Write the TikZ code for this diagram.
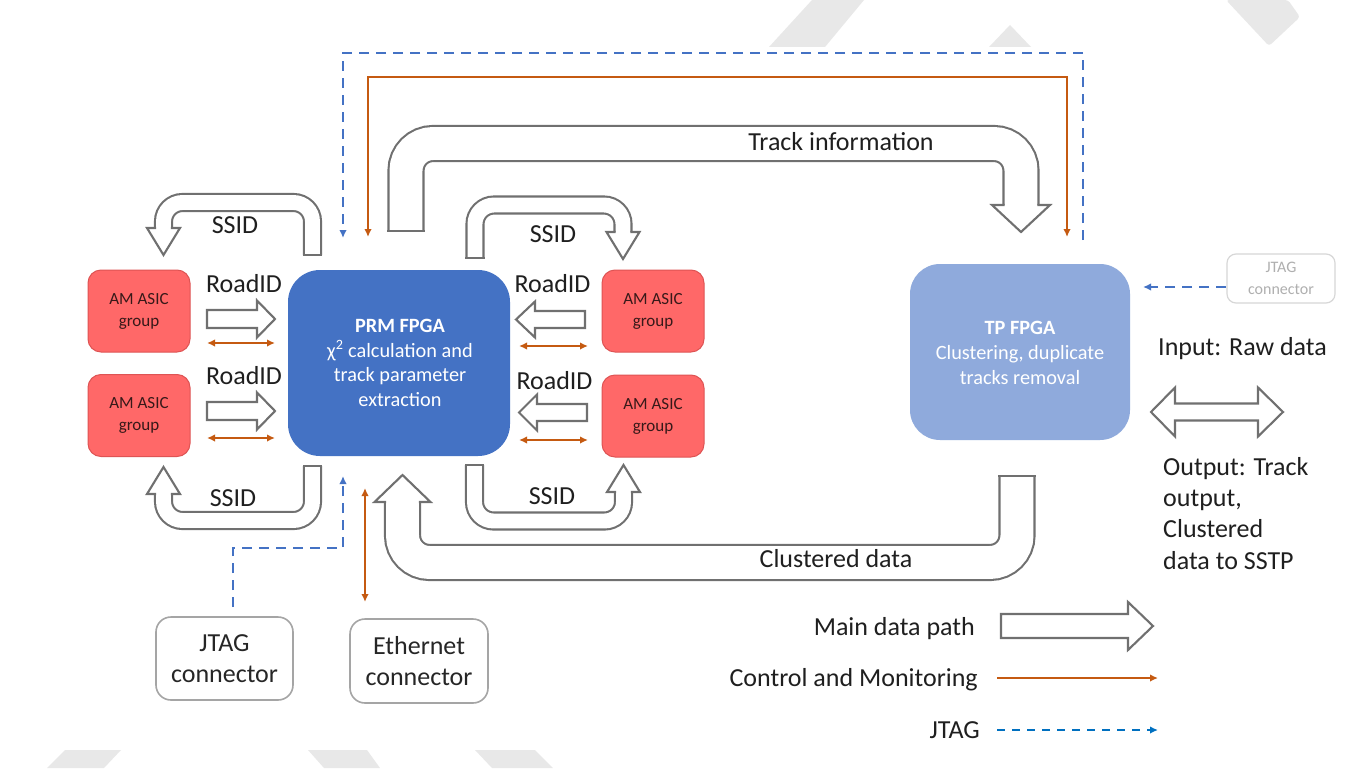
\documentclass[tikz,border=0pt]{standalone}
\usepackage{fontspec}
\setmainfont{Carlito}
\usetikzlibrary{arrows.meta,calc}

\definecolor{prmblue}{RGB}{68,114,196}
\definecolor{tpblue}{RGB}{143,170,220}
\definecolor{asicred}{RGB}{255,104,104}
\definecolor{asicedge}{RGB}{222,84,84}
\definecolor{asictext}{RGB}{55,25,25}
\definecolor{pipegray}{RGB}{112,112,112}
\definecolor{ctrlorange}{RGB}{197,90,17}
\definecolor{jtagblue}{RGB}{68,114,196}
\definecolor{legendblue}{RGB}{0,112,192}
\definecolor{boxedge}{RGB}{165,165,165}
\definecolor{faintedge}{RGB}{215,215,215}
\definecolor{fainttext}{RGB}{175,175,175}
\definecolor{wmgray}{RGB}{232,232,232}

\newcommand{\fslabel}{\fontsize{26}{31}\selectfont}
\newcommand{\fschip}{\fontsize{20.3}{24.7}\selectfont}
\newcommand{\fsasic}{\fontsize{17}{22}\selectfont}
\newcommand{\fssmall}{\fontsize{16}{22}\selectfont}

% arrow head of a bent block arrow: tip x, tip y, rotation (0 = down),
% head half width, head length, shaft half width
\newcommand{\pipehead}[6]{%
  \begin{scope}[shift={(#1,#2)}, rotate=#3]
    \fill[white] (-#4,-#5) -- (0,0) -- (#4,-#5) -- cycle;
    \draw[pipeedge, line cap=rect, line join=miter]
      (-#6,-#5) -- (-#4,-#5) -- (0,0) -- (#4,-#5) -- (#6,-#5);
  \end{scope}}
% closed tail end of a bent block arrow: centre x, y, rotation (0 = horizontal cap), half width
\newcommand{\pipetail}[4]{%
  \begin{scope}[shift={(#1,#2)}, rotate=#3]
    \draw[pipeedge, line cap=rect] (-#4,0) -- (#4,0);
  \end{scope}}

\tikzset{
  pipeedge/.style={draw=pipegray, line width=2.1pt},
  thinpipe/.style={pipeedge, double=white, double distance=14.9pt, rounded corners=19pt},
  widepipe/.style={pipeedge, double=white, double distance=32.9pt, rounded corners=27pt},
  blockarrow/.style={pipeedge, fill=white, line join=miter},
  fpga/.style={text=white, align=center, inner sep=0pt, font=\fschip},
  asic/.style={fill=asicred, draw=asicedge, line width=1pt, rounded corners=13pt,
    minimum width=102pt, minimum height=82pt, inner sep=0pt, align=center,
    text=asictext, font=\fsasic},
  connbox/.style={draw=boxedge, line width=1.6pt, rounded corners=15pt, fill=white,
    inner sep=0pt, align=center, font=\fslabel, text=black!85},
  lbl/.style={font=\fslabel, text=black!88, inner sep=0pt},
  ctrl/.style={draw=ctrlorange, line width=2.4pt},
  ctrltip/.style={-{Latex[length=8pt,width=7.5pt]}},
  ctrltips/.style={{Latex[length=8pt,width=7.5pt]}-{Latex[length=8pt,width=7.5pt]}},
  jtagline/.style={draw=jtagblue, line width=2.8pt, dash pattern=on 10pt off 7pt,
    -{Latex[length=8pt,width=7.5pt]}},
}

\begin{document}
\begin{tikzpicture}[x=1pt,y=-1pt]
\useasboundingbox (0,0) rectangle (1354,768);
\fill[white] (0,0) rectangle (1354,768);

% light background marks
\fill[wmgray] (769,47) -- (812,0) -- (864,0) -- (825,47) -- cycle;
\fill[wmgray] (989,47) -- (1010,25) -- (1031,47) -- cycle;
\fill[wmgray, rounded corners=3pt] (1226,0) -- (1288,0) -- (1300,17) -- (1269,46) -- cycle;
\fill[wmgray] (47,768) -- (65,750) -- (121,750) -- (104,768) -- cycle;
\fill[wmgray] (308,750) -- (367,750) -- (380,768) -- (324,768) -- cycle;
\fill[wmgray] (475,750) -- (535,750) -- (553,768) -- (492,768) -- cycle;

% ---------------- chips ----------------
\node[fill=prmblue, rounded corners=32pt, minimum width=222pt, minimum height=186pt,
      inner sep=0pt] (prm) at (399,363) {};
\node[fpga] (prmtext) at (400,363) {\textbf{PRM FPGA}\\χ\textsuperscript{2} calculation and\\track parameter\\extraction};

\node[fill=tpblue, rounded corners=30pt, minimum width=220pt, minimum height=176pt,
      inner sep=0pt] (tp) at (1020,352) {};
\node[fpga] (tptext) at (1020,353) {\textbf{TP FPGA}\\Clustering, duplicate\\tracks removal};

\node[asic] (asicLT) at (139,311) {AM ASIC\\group};
\node[asic] (asicLB) at (139,415.5) {AM ASIC\\group};
\node[asic] (asicRT) at (653,311) {AM ASIC\\group};
\node[asic] (asicRB) at (653,416) {AM ASIC\\group};

\node[connbox, minimum width=137pt, minimum height=83pt] (jtagconn) at (224.5,658.5) {JTAG\\connector};
\node[connbox, minimum width=138pt, minimum height=84pt] (ethconn) at (419,661) {Ethernet\\connector};
\node[draw=faintedge, line width=1.2pt, rounded corners=9pt, minimum width=108pt,
      minimum height=49pt, inner sep=0pt, align=center, font=\fssmall, text=fainttext]
      (jtagconnR) at (1281,278.5) {JTAG\\connector};

% ---------------- JTAG and control lines ----------------
\coordinate (tpJ) at (1083,240);
\coordinate (prmJtop) at (343,238);
\draw[jtagline] (tpJ) |- (343,53) -- (prmJtop);

\coordinate (prmCtop) at (368,237);
\coordinate (tpCtop) at (1067,237);
\draw[ctrl, ctrltips] (prmCtop) |- (1067,77) -- (tpCtop);

\coordinate (jtagUp) at (233,607);
\coordinate (prmJbot) at (343,476);
\draw[jtagline] (jtagUp) |- (343,548) -- (prmJbot);

\coordinate (ethUp) at (365,602);
\coordinate (prmCbot) at (365,488);
\draw[ctrl, ctrltips] (ethUp) -- (prmCbot);

\coordinate (jtagRfrom) at (1226,287);
\coordinate (tpJside) at (1143,287);
\draw[jtagline] (jtagRfrom) -- (tpJside);

% orange links between chips
\draw[ctrl, ctrltips] (207,343) -- (275,343);
\draw[ctrl, ctrltips] (207,438) -- (275,438);
\draw[ctrl, ctrltips] (519,346) -- (588,346);
\draw[ctrl, ctrltips] (519,440) -- (588,440);

% ---------------- RoadID block arrows ----------------
\draw[blockarrow] (207,310) -- (257,310) -- (257,300.5) -- (275,319) -- (257,337.5) -- (257,328) -- (207,328) -- cycle;
\draw[blockarrow] (207,402) -- (257,402) -- (257,392.5) -- (275,411) -- (257,429.5) -- (257,420) -- (207,420) -- cycle;
\draw[blockarrow] (585,311) -- (535,311) -- (535,301.5) -- (516,319.5) -- (535,337.5) -- (535,328) -- (585,328) -- cycle;
\draw[blockarrow] (587,404) -- (537,404) -- (537,394.5) -- (519,412.5) -- (537,430.5) -- (537,421) -- (587,421) -- cycle;

\node[lbl, anchor=base] (rid1) at (244,292) {RoadID};
\node[lbl, anchor=base] (rid2) at (244,384) {RoadID};
\node[lbl, anchor=base] (rid3) at (552.5,292) {RoadID};
\node[lbl, anchor=base] (rid4) at (554.5,389) {RoadID};

% ---------------- SSID bent arrows ----------------
% upper left: PRM -> left upper ASIC
\draw[thinpipe] (312.5,255) -- (312.5,202.5) -- (163.5,202.5) -- (163.5,228);
\pipetail{312.5}{255}{0}{8.5}
\pipehead{163.5}{255}{0}{16.5}{27}{8.5}
% upper middle: PRM -> right upper ASIC
\draw[thinpipe] (475,258) -- (475,205) -- (623,205) -- (623,232);
\pipetail{475}{258}{0}{8.5}
\pipehead{623}{259}{0}{16.5}{27}{8.5}
% lower left
\draw[thinpipe] (312.5,466) -- (312.5,520.5) -- (163.5,520.5) -- (163.5,494);
\pipetail{312.5}{466}{0}{8.5}
\pipehead{163.5}{467}{180}{16.5}{27}{8.5}
% lower middle
\draw[thinpipe] (474.5,465) -- (474.5,521) -- (623.5,521) -- (623.5,492);
\pipetail{474.5}{465}{0}{8.5}
\pipehead{623.5}{465}{180}{16.5}{27}{8.5}

\node[lbl, anchor=base] (ssid1) at (235,233) {SSID};
\node[lbl, anchor=base] (ssid2) at (553,242) {SSID};
\node[lbl, anchor=base] (ssid3) at (233,506) {SSID};
\node[lbl, anchor=base] (ssid4) at (552,504) {SSID};

% ---------------- Track information and clustered data ----------------
\draw[widepipe] (406,231) -- (406,143.5) -- (1021,143.5) -- (1021,205);
\pipetail{406}{231}{0}{17.5}
\pipehead{1021}{232}{0}{29}{27}{17.5}
\node[lbl, anchor=base] (trackinfo) at (841,150) {Track information};

\draw[widepipe] (1017,476) -- (1017,562.5) -- (402.5,562.5) -- (402.5,502);
\pipetail{1017}{476}{0}{17.5}
\pipehead{402.5}{475}{180}{28}{27}{17.5}
\node[lbl, anchor=base] (clustered) at (836,567) {Clustered data};

% ---------------- external I/O ----------------
\node[lbl, anchor=base west] (inraw) at (1158,355) {Input: Raw data};
\draw[blockarrow] (1151,412) -- (1175,387.5) -- (1175,403.5) -- (1258,403.5) -- (1258,387.5)
  -- (1283,412) -- (1258,436.5) -- (1258,420.5) -- (1175,420.5) -- (1175,436.5) -- cycle;
\node[lbl, anchor=base west] (out1) at (1163,475) {Output: Track};
\node[lbl, anchor=base west] (out2) at (1163,506) {output,};
\node[lbl, anchor=base west] (out3) at (1163,537) {Clustered};
\node[lbl, anchor=base west] (out4) at (1163,569) {data to SSTP};

% ---------------- legend ----------------
\node[lbl, anchor=base east] (legdata) at (975,635) {Main data path};
\draw[blockarrow] (1001,614) -- (1128,614) -- (1128,602) -- (1153,626) -- (1128,650) -- (1128,638) -- (1001,638) -- cycle;
\node[lbl, anchor=base east] (legctrl) at (978,686) {Control and Monitoring};
\coordinate (legc1) at (997,678);
\coordinate (legc2) at (1158,678);
\draw[ctrl, ctrltip] (legc1) -- (legc2);
\node[lbl, anchor=base east] (legjtag) at (980,738) {JTAG};
\coordinate (legj1) at (997,730);
\coordinate (legj2) at (1158,730);
\draw[jtagline, draw=legendblue, dash pattern=on 8pt off 7pt,
      -{Latex[length=8pt,width=7.5pt,fill=legendblue]}] (legj1) -- (legj2);
\end{tikzpicture}
\end{document}
